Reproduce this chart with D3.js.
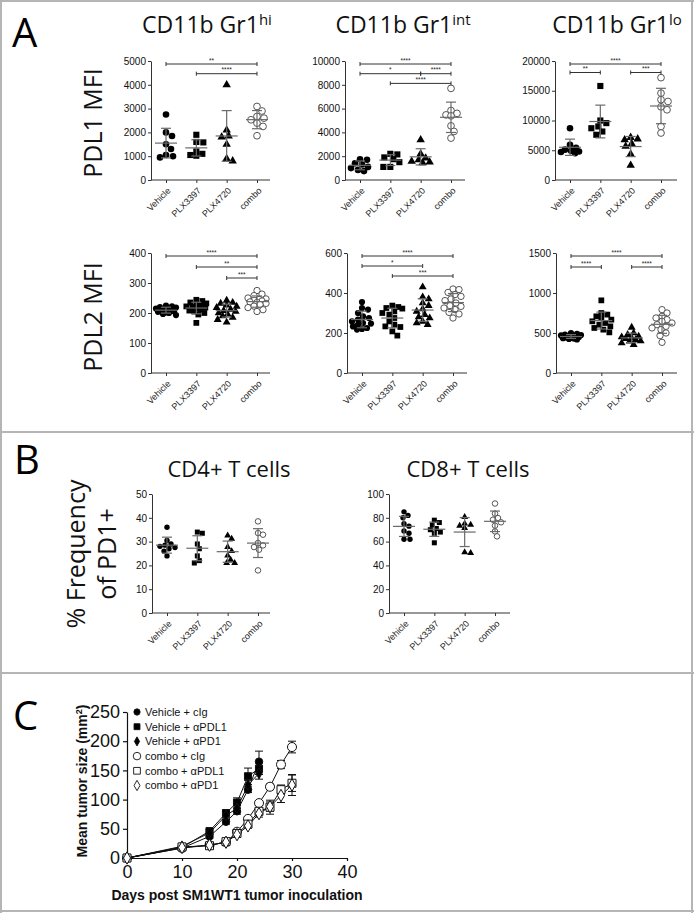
<!DOCTYPE html>
<html><head><meta charset="utf-8">
<script src="https://cdn.jsdelivr.net/npm/d3@7"></script>
<style>
body{margin:0;background:#fff;}
svg{display:block;}
</style></head><body>
<svg id="c" width="694" height="913"></svg>
<script>
// ---------- DATA ----------
const categories = ["Vehicle","PLX3397","PLX4720","combo"];
// Panel A – PDL1 MFI
const pdl1Hi  = [[2750,2000,1850,1500,1300,1050,1000,950],[1900,1600,1580,1200,1100,1050,1020],[4000,2100,1850,1800,1500,900,800],[3090,2900,2670,2600,2530,2390,2250,1860]];
const pdl1Int = [[1750,1700,1400,1300,1100,1000,850,750],[2200,2150,1900,1750,1500,1100,1100],[3380,2200,1840,1700,1560,1500,1450],[7700,5840,5600,5470,5390,4550,4080,3520]];
const pdl1Lo  = [[8700,5900,5400,5100,4800,4700,4500,4900],[15800,10000,9560,9000,8700,8150,7600],[7150,6900,6750,6100,5650,4350,2450],[17200,14600,13500,13200,12300,11800,9000,7900]];
// Panel A – PDL2 MFI
const pdl2Hi  = [[225,222,220,218,215,212,210,208,206,204,202,200,197,193],[244,240,235,232,228,225,222,220,218,215,212,208,205,200,195,167],[242,235,232,226,222,218,212,208,205,200,196,190,185,178,169],[275,263,258,250,247,245,242,240,237,235,232,228,223,218,211,205]];
const pdl2Int = [[355,325,317,300,283,275,267,258,250,247,242,233,225,220,217],[337,330,325,322,308,300,292,275,258,242,233,230,208,187],[430,380,370,350,337,320,308,292,280,275,258,250,242],[420,417,403,392,383,370,362,350,337,333,325,317,303,295,275]];
const pdl2Lo  = [[500,490,480,475,470,465,460,455,450,445,440,435,430,425,420],[908,750,730,708,688,667,646,625,604,583,563,542,508],[570,500,479,458,450,437,430,417,400,396,375,354],[792,750,708,688,667,646,625,604,583,563,542,500,467,383]];
// Panel B – % PD1+
const cd4 = [[36,30.5,29,28.5,28,27.5,27,26,24],[34,33.5,29,27,24,22,21],[32.6,31.2,27.7,26,24.2,22.4,21,21],[38.5,33.6,32.9,29.4,28.4,27.7,26.6,17.9]];
const cd8 = [[85,82,80,75,73,69,67,62,62],[78,76,74,71,70,68,67,59],[80.7,75.1,74.2,73.4,71.4,51,50.4],[92,83.5,79.8,78.4,76.2,73.4,68.6,64.4]];
// tick values
const ticksPdl1Hi = [0,1000,2000,3000,4000,5000];
const ticksPdl1Int = [0,2000,4000,6000,8000,10000];
const ticksPdl1Lo = [0,5000,10000,15000,20000];
const ticksPdl2Hi = [0,100,200,300,400];
const ticksPdl2Int = [0,200,400,600];
const ticksPdl2Lo = [0,500,1000,1500];
const ticksCd4 = [0,10,20,30,40,50];
const ticksCd8 = [0,20,40,60,80,100];
// significance: [from, to, label, level]
const sigPdl1Hi = [[0,3,"**",0],[1,3,"****",1]];
const sigPdl1Int = [[0,3,"****",0],[0,2,"*",1],[2,3,"****",1],[1,3,"****",2]];
const sigPdl1Lo = [[0,3,"****",0],[0,1,"**",1],[2,3,"***",1]];
const sigPdl2Hi = [[0,3,"****",0],[1,3,"**",1],[2,3,"***",2]];
const sigPdl2Int = [[0,3,"****",0],[0,2,"*",1],[1,3,"***",2]];
const sigPdl2Lo = [[0,3,"****",0],[0,1,"****",1],[2,3,"****",1]];
// Panel C – tumour growth
const daysC = [0,10,15,18,20,22,24,26,28,30];
const vehCIg   = [0,17,37,62,80,117,165];
const vehCIgSe = [0,2,3,4,5,5,18];
const vehPDL1   = [0,18,46,77,95,140,153];
const vehPDL1Se = [0,2,3,5,8,14,10];
const vehPD1   = [0,20,43,73,85,125,145];
const vehPD1Se = [0,2,3,4,6,8,10];
const comboCIg   = [0,17,22,27,45,67,94,122,160,190];
const comboCIgSe = [0,1,2,2,3,4,4,5,7,10];
const comboPDL1   = [0,19,21,28,42,58,80,87,117,128];
const comboPDL1Se = [0,2,2,2,4,5,5,12,8,14];
const comboPD1   = [0,18,22,27,40,55,76,88,107,125];
const comboPD1Se = [0,2,2,2,3,4,6,8,12,18];
const legendC = ["Vehicle + cIg","Vehicle + αPDL1","Vehicle + αPD1","combo + cIg","combo + αPDL1","combo + αPD1"];

// ---------- DRAW ----------
const svg = d3.select("#c");
const TICKFONT = "'Liberation Sans', Arial, sans-serif";
const TITLEFONT = "'Open Sans', sans-serif";

// frame
const frame = svg.append("g").attr("stroke","#b5b5b5").attr("stroke-width",2);
[[0,1,694,1],[1,0,1,913],[692,0,692,913],[0,911,694,911],[0,432,694,432],[0,673,694,673]].forEach(l=>{
  frame.append("line").attr("x1",l[0]).attr("y1",l[1]).attr("x2",l[2]).attr("y2",l[3]);
});

function panelLetter(t,x,y){
  svg.append("text").attr("x",x).attr("y",y).attr("font-family",TITLEFONT).attr("font-size",40).text(t);
}
panelLetter("A",12,47); panelLetter("B",14,474); panelLetter("C",13,730);

function title(main,sup,cx,y,size){
  const t = svg.append("text").attr("x",cx).attr("y",y).attr("text-anchor","middle")
    .attr("font-family",TITLEFONT).attr("font-size",size||22).attr("fill","#111");
  t.append("tspan").text(main);
  if(sup){ t.append("tspan").attr("font-size",15).attr("dy",-8).text(sup); }
}
function vlabel(lines,cx,cy,size){
  const g = svg.append("g").attr("transform",`translate(${cx},${cy}) rotate(-90)`);
  lines.forEach((s,i)=>{
    g.append("text").attr("x",0).attr("y",(i-(lines.length-1)/2)*31).attr("dy","0.35em")
     .attr("text-anchor","middle").attr("font-family",TITLEFONT).attr("font-size",size).attr("fill","#111").text(s);
  });
}

const shapeTypes = [
  {sym:d3.symbolCircle, fill:"#000", stroke:"none", k:1},
  {sym:d3.symbolSquare, fill:"#000", stroke:"none", k:1.1},
  {sym:d3.symbolTriangle, fill:"#000", stroke:"none", k:0.9},
  {sym:d3.symbolCircle, fill:"#fff", stroke:"#444", k:1.05}
];

// deterministic beeswarm limited to +-maxOff around the category centre
function swarm(vals, y, cx, r, maxOff){
  const pts = vals.map(v=>({v, py:y(v)})).sort((a,b)=>a.py-b.py);
  const placed=[];
  const minD = r*1.9;
  const cands = d3.range(-maxOff,maxOff+0.01,1).sort((a,b)=>Math.abs(a)-Math.abs(b)||b-a);
  pts.forEach(p=>{
    let best=null,bestClr=-1;
    for(const off of cands){
      const px = cx+off;
      const clr = placed.length? d3.min(placed,q=>Math.hypot(q.px-px,q.py-p.py)) : Infinity;
      if(clr>=minD){ best=px; break; }
      if(clr>bestClr+0.5){ bestClr=clr; best=px; }
    }
    p.px=best;
    placed.push(p);
  });
  return placed;
}

function scatterPlot(o){
  const g = svg.append("g");
  const y = d3.scaleLinear().domain([0,o.max]).range([o.yBot,o.yTop]);
  const x = d3.scalePoint().domain(categories).range([o.x0+15,o.x0+106]);
  // y axis
  const ya = g.append("g").attr("transform",`translate(${o.x0},0)`)
    .call(d3.axisLeft(y).tickValues(o.ticks).tickSize(3).tickSizeOuter(0).tickPadding(2).tickFormat(d3.format("d")));
  ya.selectAll("text").attr("font-family",TICKFONT).attr("font-size",10).attr("fill","#111");
  ya.selectAll("path,line").attr("stroke","#333");
  // x axis
  const xa = g.append("g").attr("transform",`translate(0,${o.yBot})`)
    .call(d3.axisBottom(x).tickSize(3).tickSizeOuter(0).tickFormat(""));
  xa.select("path").attr("d",`M${o.x0},0H${o.x1}`).attr("stroke","#333");
  xa.selectAll("line").attr("stroke","#333");
  categories.forEach(c=>{
    g.append("text").attr("transform",`translate(${x(c)+3},${o.yBot+9}) rotate(-45)`)
      .attr("text-anchor","end").attr("dy","0.35em").attr("font-family",TICKFONT).attr("font-size",9).attr("fill","#222").text(c);
  });
  // points
  o.data.forEach((vals,i)=>{
    const st = shapeTypes[i];
    const pts = swarm(vals,y,x(categories[i]),o.r,o.maxOff||10);
    const area = Math.PI*o.r*o.r*st.k;
    g.selectAll(null).data(pts).enter().append("path")
      .attr("transform",d=>`translate(${d.px},${d.py})`)
      .attr("d",d3.symbol().type(st.sym).size(area))
      .attr("fill",st.fill).attr("stroke",st.stroke).attr("stroke-width",0.9);
  });
  // mean ± SD
  o.data.forEach((vals,i)=>{
    const cx = x(categories[i]);
    const m = d3.mean(vals), s = d3.deviation(vals);
    const col = "#6a6a6a";
    g.append("line").attr("x1",cx-11).attr("x2",cx+11).attr("y1",y(m)).attr("y2",y(m)).attr("stroke",col).attr("stroke-width",1.2);
    g.append("line").attr("x1",cx).attr("x2",cx).attr("y1",y(m-s)).attr("y2",y(m+s)).attr("stroke",col).attr("stroke-width",1.2);
    [m-s,m+s].forEach(v=>g.append("line").attr("x1",cx-5).attr("x2",cx+5).attr("y1",y(v)).attr("y2",y(v)).attr("stroke",col).attr("stroke-width",1.2));
  });
  // significance
  (o.sig||[]).forEach(sg=>{
    const yy = o.yTop+3+sg[3]*o.sigStep;
    const xa1 = x(categories[sg[0]]), xa2 = x(categories[sg[1]]);
    g.append("line").attr("x1",xa1).attr("x2",xa2).attr("y1",yy).attr("y2",yy).attr("stroke","#333").attr("stroke-width",1);
    [xa1,xa2].forEach(xx=>g.append("line").attr("x1",xx).attr("x2",xx).attr("y1",yy-2).attr("y2",yy+2).attr("stroke","#333"));
    g.append("text").attr("x",(xa1+xa2)/2).attr("y",yy-1.5).attr("text-anchor","middle")
      .attr("font-family",TICKFONT).attr("font-size",6.5).attr("fill","#222").text(sg[2]);
  });
}

// Panel A
title("CD11b Gr1","hi",207,33,23);
title("CD11b Gr1","int",403,33,23);
title("CD11b Gr1","lo",617,33,23);
vlabel(["PDL1 MFI"],93,123,25);
vlabel(["PDL2 MFI"],93,317,25);
scatterPlot({x0:151,x1:270,yTop:61,yBot:180,max:5000,ticks:ticksPdl1Hi,data:pdl1Hi,sig:sigPdl1Hi,r:3.3,sigStep:9.7,maxOff:9});
scatterPlot({x0:345,x1:465,yTop:61,yBot:180,max:10000,ticks:ticksPdl1Int,data:pdl1Int,sig:sigPdl1Int,r:3.3,sigStep:9.7,maxOff:9});
scatterPlot({x0:555,x1:677,yTop:61,yBot:180,max:20000,ticks:ticksPdl1Lo,data:pdl1Lo,sig:sigPdl1Lo,r:3.3,sigStep:8.5,maxOff:9});
scatterPlot({x0:151,x1:270,yTop:253,yBot:373,max:400,ticks:ticksPdl2Hi,data:pdl2Hi,sig:sigPdl2Hi,r:3.1,sigStep:11,maxOff:10});
scatterPlot({x0:347,x1:467,yTop:253,yBot:373,max:600,ticks:ticksPdl2Int,data:pdl2Int,sig:sigPdl2Int,r:3.1,sigStep:10,maxOff:10});
scatterPlot({x0:556,x1:677,yTop:253,yBot:373,max:1500,ticks:ticksPdl2Lo,data:pdl2Lo,sig:sigPdl2Lo,r:3.1,sigStep:11,maxOff:10});

// Panel B
title("CD4+ T cells",null,229,477,22);
title("CD8+ T cells",null,468,477,22);
vlabel(["% Frequency","of PD1+"],92,554,25);
scatterPlot({x0:152,x1:270,yTop:494,yBot:613,max:50,ticks:ticksCd4,data:cd4,r:2.7,sigStep:10,maxOff:9});
scatterPlot({x0:389,x1:510,yTop:494,yBot:613,max:100,ticks:ticksCd8,data:cd8,r:2.7,sigStep:10,maxOff:9});

// Panel C
(function(){
  const g = svg.append("g");
  const x = d3.scaleLinear().domain([0,40]).range([127,347]);
  const y = d3.scaleLinear().domain([0,250]).range([858,712]);
  const ya = g.append("g").attr("transform","translate(127,0)")
    .call(d3.axisLeft(y).tickValues([0,50,100,150,200,250]).tickSize(4).tickSizeOuter(0).tickPadding(3));
  ya.selectAll("text").attr("font-family",TICKFONT).attr("font-size",18).attr("fill","#111");
  ya.selectAll("path,line").attr("stroke","#111").attr("stroke-width",1.2);
  const xa = g.append("g").attr("transform","translate(0,858)")
    .call(d3.axisBottom(x).tickValues([0,10,20,30,40]).tickSize(3).tickSizeOuter(0).tickPadding(4));
  xa.selectAll("text").attr("font-family",TICKFONT).attr("font-size",18).attr("fill","#111");
  xa.selectAll("path,line").attr("stroke","#111").attr("stroke-width",1.2);

  const series = [
    {m:vehCIg, se:vehCIgSe, sym:d3.symbolCircle, fill:"#000", size:44},
    {m:vehPDL1, se:vehPDL1Se, sym:d3.symbolSquare, fill:"#000", size:50},
    {m:vehPD1, se:vehPD1Se, sym:d3.symbolDiamond, fill:"#000", size:34},
    {m:comboCIg, se:comboCIgSe, sym:d3.symbolCircle, fill:"#fff", size:64},
    {m:comboPDL1, se:comboPDL1Se, sym:d3.symbolSquare, fill:"#fff", size:64},
    {m:comboPD1, se:comboPD1Se, sym:d3.symbolDiamond, fill:"#fff", size:44}
  ];
  const line = d3.line().x(d=>x(d.d)).y(d=>y(d.v));
  series.forEach(s=>{
    s.pts = s.m.map((v,i)=>({d:daysC[i],v,se:s.se[i]}));
    g.append("path").attr("d",line(s.pts)).attr("fill","none").attr("stroke","#111").attr("stroke-width",1);
  });
  series.forEach(s=>{
    s.pts.forEach(p=>{
      if(p.se>0){
        const cx=x(p.d);
        g.append("line").attr("x1",cx).attr("x2",cx).attr("y1",y(p.v-p.se)).attr("y2",y(p.v+p.se)).attr("stroke","#111");
        [p.v-p.se,p.v+p.se].forEach(v=>g.append("line").attr("x1",cx-4).attr("x2",cx+4).attr("y1",y(v)).attr("y2",y(v)).attr("stroke","#111"));
      }
    });
  });
  series.forEach(s=>{
    g.selectAll(null).data(s.pts).enter().append("path")
      .attr("transform",d=>`translate(${x(d.d)},${y(d.v)})`)
      .attr("d",d3.symbol().type(s.sym).size(s.size))
      .attr("fill",s.fill).attr("stroke","#111").attr("stroke-width",1);
  });
  // legend
  series.forEach((s,i)=>{
    const yy = 712+i*14.7;
    g.append("path").attr("transform",`translate(137,${yy})`).attr("d",d3.symbol().type(s.sym).size(s.size*0.7))
      .attr("fill",s.fill).attr("stroke","#111").attr("stroke-width",0.9);
    g.append("text").attr("x",145).attr("y",yy).attr("dy","0.35em").attr("font-family",TICKFONT)
      .attr("font-size",11).attr("fill","#111").text(legendC[i]);
  });
  // axis labels
  const yl = g.append("text").attr("transform","translate(82,781) rotate(-90)").attr("text-anchor","middle")
    .attr("dy","0.35em").attr("font-family",TICKFONT).attr("font-weight","bold").attr("font-size",14).attr("fill","#111");
  yl.append("tspan").text("Mean tumor size (mm");
  yl.append("tspan").attr("font-size",9).attr("dy",-5).text("2");
  yl.append("tspan").attr("dy",5).text(")");
  g.append("text").attr("x",237).attr("y",900).attr("text-anchor","middle").attr("font-family",TICKFONT)
    .attr("font-weight","bold").attr("font-size",14).attr("fill","#111").text("Days post SM1WT1 tumor inoculation");
})();
</script>
</body></html>
